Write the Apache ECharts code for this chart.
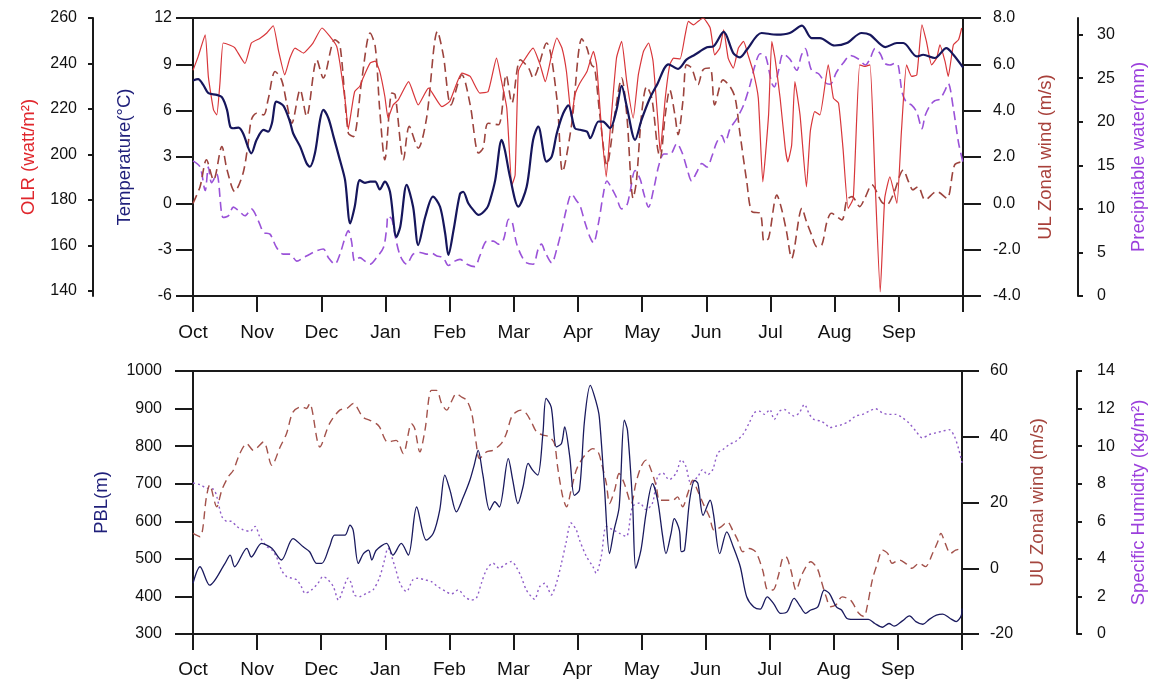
<!DOCTYPE html>
<html><head><meta charset="utf-8">
<script src="https://cdn.jsdelivr.net/npm/echarts@6/dist/echarts.min.js"></script>
<style>html,body{margin:0;padding:0;background:#fff}#c{width:1156px;height:682px}</style>
</head><body><div id="c"></div>
<script>
// x positions are in months after 1 October (0 = Oct 1, 12 = end of Sep)
const months = ['Oct','Nov','Dec','Jan','Feb','Mar','Apr','May','Jun','Jul','Aug','Sep'];
const olrTicks = [140,160,180,200,220,240,260];
const pwTicks = [0,5,10,15,20,25,30];

const tempData = [[0.00,7.95],[0.08,8.04],[0.16,7.67],[0.24,7.13],[0.37,7.02],[0.45,6.87],[0.53,6.05],[0.58,4.97],[0.63,4.86],[0.71,4.9],[0.78,4.54],[0.91,3.24],[0.99,4.1],[1.10,4.75],[1.17,4.64],[1.23,5.18],[1.30,6.59],[1.41,6.31],[1.51,5.29],[1.56,4.54],[1.67,3.67],[1.77,2.59],[1.82,2.37],[1.90,3.24],[1.98,5.4],[2.03,6.05],[2.11,5.51],[2.19,4.32],[2.29,2.8],[2.37,1.5],[2.45,-1.3],[2.52,-0.22],[2.60,1.5],[2.68,1.33],[2.76,1.4],[2.84,1.4],[2.91,0.9],[2.99,1.4],[3.07,0.75],[3.17,-2.17],[3.23,-1.52],[3.33,1.2],[3.43,-0.22],[3.51,-2.7],[3.62,-0.87],[3.74,0.44],[3.85,-0.22],[3.93,-1.95],[3.98,-3.34],[4.06,-1.74],[4.16,0.6],[4.21,0.75],[4.29,0.0],[4.37,-0.44],[4.45,-0.75],[4.58,-0.31],[4.63,0.21],[4.71,1.5],[4.81,4.11],[4.86,3.45],[4.94,1.72],[5.07,-0.21],[5.20,1.07],[5.30,4.1],[5.38,4.97],[5.51,2.7],[5.59,3.02],[5.67,4.54],[5.77,5.83],[5.85,6.34],[5.95,4.87],[6.03,4.76],[6.14,4.64],[6.19,4.22],[6.32,5.3],[6.39,5.29],[6.50,4.87],[6.60,6.05],[6.68,7.6],[6.76,6.27],[6.89,4.11],[6.99,5.4],[7.12,6.8],[7.23,7.67],[7.41,9.0],[7.56,8.71],[7.69,9.3],[7.82,9.62],[8.01,10.1],[8.11,10.16],[8.27,11.1],[8.42,9.73],[8.52,9.45],[8.63,9.94],[8.86,11.03],[9.10,10.92],[9.30,11.03],[9.49,11.5],[9.64,10.7],[9.77,10.7],[10.00,10.22],[10.19,10.38],[10.42,11.03],[10.55,10.92],[10.79,10.12],[10.97,10.38],[11.07,10.38],[11.28,9.51],[11.38,9.62],[11.56,9.41],[11.74,10.05],[11.85,9.62],[12.00,8.8]];

const olrData = [[0.00,237],[0.08,243],[0.19,252.6],[0.24,234],[0.32,219.6],[0.37,217.4],[0.42,231.4],[0.47,249],[0.58,248],[0.65,247],[0.81,240],[0.91,249],[1.04,251],[1.15,253.4],[1.25,256.6],[1.33,246],[1.43,235],[1.51,242.4],[1.59,246.8],[1.72,244.6],[1.87,249],[2.01,255.6],[2.13,252],[2.24,247.5],[2.29,240],[2.37,224],[2.42,211],[2.47,219.6],[2.52,227.7],[2.60,230],[2.65,233.6],[2.76,240.2],[2.84,241],[2.91,236.5],[2.99,225.5],[3.04,216],[3.12,221.8],[3.20,224],[3.36,232],[3.51,221.8],[3.67,229.2],[3.88,221],[4.00,223.3],[4.19,235.8],[4.32,234.3],[4.47,227],[4.60,227.7],[4.73,242.4],[4.81,232],[4.89,220.4],[4.97,186.6],[5.02,191],[5.07,236.5],[5.15,241],[5.30,246.8],[5.41,239.4],[5.49,232],[5.59,243.8],[5.67,251.2],[5.75,246.8],[5.82,236.5],[5.90,216],[5.95,226],[6.03,231.4],[6.14,236.5],[6.24,245.3],[6.29,239.4],[6.37,210],[6.44,190.2],[6.50,210],[6.60,242.4],[6.68,249.7],[6.76,232],[6.86,216],[6.94,235],[7.02,245.3],[7.10,249],[7.17,240.9],[7.25,213],[7.28,201.2],[7.36,224.8],[7.43,239.4],[7.49,242.4],[7.59,242],[7.67,252.6],[7.72,258.5],[7.80,257],[7.87,258.5],[7.95,260],[8.06,255.6],[8.13,243.8],[8.21,246.8],[8.27,254.8],[8.34,242.4],[8.42,238],[8.50,246.8],[8.58,249.7],[8.65,243.8],[8.73,236.5],[8.81,224.8],[8.88,188],[8.97,217.4],[9.02,249.7],[9.07,242.4],[9.15,224.8],[9.23,202.7],[9.27,196.8],[9.33,204.2],[9.38,232],[9.46,217.4],[9.56,185.8],[9.62,210],[9.69,218.9],[9.77,217.4],[9.90,239.4],[9.98,224.8],[10.06,222.6],[10.13,202.7],[10.21,176.3],[10.29,180.7],[10.39,239.4],[10.47,238.7],[10.55,239.4],[10.63,188],[10.71,139.6],[10.78,180.7],[10.86,190.2],[10.97,178.5],[11.04,210],[11.12,239.4],[11.20,234.3],[11.28,235],[11.36,257],[11.43,249.7],[11.51,239.4],[11.59,242.4],[11.64,248.2],[11.72,240.9],[11.77,234.3],[11.85,248.2],[11.93,250.4],[11.98,255.6]];

const ulWindData = [[0.00,0.0],[0.11,0.72],[0.21,1.88],[0.32,1.01],[0.45,2.45],[0.53,1.45],[0.65,0.51],[0.78,1.30],[0.86,2.60],[0.91,3.61],[0.99,3.89],[1.10,3.82],[1.17,4.47],[1.28,5.69],[1.38,5.33],[1.46,4.33],[1.54,3.46],[1.67,4.90],[1.77,3.75],[1.93,6.20],[2.03,5.41],[2.21,7.06],[2.29,6.85],[2.42,3.03],[2.50,2.88],[2.63,5.33],[2.76,7.35],[2.84,6.77],[2.91,4.04],[2.99,1.88],[3.10,4.76],[3.15,4.69],[3.28,1.88],[3.37,3.32],[3.51,2.38],[3.64,3.68],[3.81,7.42],[3.90,6.41],[4.02,4.25],[4.19,5.55],[4.32,4.25],[4.45,2.17],[4.52,2.38],[4.60,3.46],[4.76,3.39],[4.88,5.55],[4.97,4.33],[5.10,6.2],[5.23,5.84],[5.30,5.41],[5.51,6.92],[5.67,4.54],[5.76,1.37],[5.90,3.39],[6.06,7.1],[6.14,6.7],[6.21,5.98],[6.26,5.84],[6.34,3.82],[6.45,1.66],[6.58,3.96],[6.68,5.41],[6.76,3.82],[6.86,0.22],[6.91,0.94],[6.99,3.82],[7.07,5.04],[7.15,4.54],[7.24,2.38],[7.28,1.95],[7.36,3.82],[7.43,4.90],[7.51,3.82],[7.56,2.96],[7.64,4.54],[7.69,5.98],[7.77,5.84],[7.87,5.12],[7.95,5.77],[8.06,5.84],[8.13,4.25],[8.26,5.33],[8.37,5.04],[8.45,4.54],[8.52,3.10],[8.63,0.94],[8.71,-0.36],[8.84,-0.43],[8.90,-1.65],[8.97,-1.51],[9.10,0.36],[9.17,-0.21],[9.25,-1.22],[9.33,-2.37],[9.49,-0.21],[9.56,-0.79],[9.64,-1.36],[9.72,-1.87],[9.80,-1.80],[9.88,-0.79],[9.95,-0.43],[10.11,-0.72],[10.19,0.15],[10.27,0.29],[10.39,-0.14],[10.47,0.22],[10.58,0.80],[10.73,0.07],[10.81,-0.07],[10.91,0.36],[11.07,1.44],[11.15,0.94],[11.22,0.58],[11.30,0.72],[11.41,0.15],[11.59,0.51],[11.75,0.22],[11.87,1.66],[12.00,1.8]];

const pwData = [[0.00,15.5],[0.11,14.8],[0.19,12.1],[0.24,14.8],[0.29,13.0],[0.37,14.0],[0.47,9.0],[0.55,9.2],[0.63,10.2],[0.71,9.8],[0.81,9.2],[0.91,10.0],[1.02,8.6],[1.10,7.3],[1.20,7.1],[1.30,5.6],[1.41,4.8],[1.51,4.8],[1.62,4.0],[1.72,4.4],[1.82,4.8],[1.93,5.2],[2.03,5.4],[2.11,4.4],[2.21,3.65],[2.29,4.8],[2.37,6.7],[2.42,7.5],[2.47,6.3],[2.52,4.0],[2.60,4.4],[2.68,4.0],[2.76,3.65],[2.86,4.4],[2.97,5.6],[3.02,7.9],[3.04,9.2],[3.10,8.8],[3.15,6.9],[3.23,4.6],[3.33,3.65],[3.43,4.8],[3.54,5.0],[3.64,4.8],[3.72,4.9],[3.80,4.6],[3.90,4.4],[3.98,3.5],[4.08,4.0],[4.16,4.2],[4.27,3.65],[4.39,3.37],[4.47,4.6],[4.58,6.3],[4.68,6.3],[4.76,5.95],[4.84,6.5],[4.92,8.8],[4.97,8.6],[5.04,6.1],[5.12,4.6],[5.20,3.8],[5.30,3.65],[5.38,5.4],[5.43,5.95],[5.49,5.0],[5.59,3.8],[5.67,5.4],[5.75,7.7],[5.82,10.0],[5.90,11.7],[5.98,10.9],[6.03,10.4],[6.11,8.4],[6.19,6.7],[6.24,6.1],[6.32,8.4],[6.39,11.5],[6.45,13.2],[6.53,12.3],[6.60,11.3],[6.68,10.0],[6.76,10.4],[6.81,11.9],[6.89,14.4],[6.97,13.4],[7.02,11.9],[7.10,10.2],[7.18,12.3],[7.26,15.0],[7.34,16.3],[7.44,16.3],[7.54,17.5],[7.62,16.5],[7.70,14.6],[7.77,13.2],[7.85,14.2],[7.93,15.2],[8.01,14.8],[8.09,16.1],[8.16,17.6],[8.24,18.4],[8.29,17.6],[8.37,19.2],[8.47,20.3],[8.58,21.9],[8.68,24.2],[8.76,26.5],[8.84,27.8],[8.92,27.6],[9.02,24.4],[9.06,24.0],[9.12,25.7],[9.20,27.8],[9.30,27.2],[9.41,25.9],[9.48,27.6],[9.54,28.4],[9.64,25.9],[9.75,25.5],[9.85,24.5],[9.93,24.3],[10.03,25.7],[10.14,26.8],[10.24,27.6],[10.37,27.2],[10.48,26.5],[10.55,27.2],[10.63,28.4],[10.71,27.8],[10.78,26.7],[10.86,26.5],[10.94,26.7],[10.99,26.5],[11.05,23.4],[11.12,22.2],[11.20,21.9],[11.28,21.1],[11.36,19.2],[11.41,20.7],[11.49,21.9],[11.56,22.4],[11.64,22.6],[11.72,23.6],[11.77,24.4],[11.85,21.5],[11.93,17.6],[12.00,15.3]];

const pblData = [[0.00,435],[0.11,479],[0.26,430],[0.50,488],[0.58,510],[0.65,479],[0.84,528],[0.91,505],[1.07,541],[1.23,528],[1.38,497],[1.56,554],[1.72,532],[1.82,519],[1.93,488],[2.01,488],[2.13,532],[2.21,563],[2.37,563],[2.45,590],[2.50,576],[2.58,488],[2.66,514],[2.74,523],[2.79,497],[2.86,523],[3.02,541],[3.12,510],[3.25,541],[3.36,510],[3.49,638],[3.64,550],[3.75,568],[3.85,630],[3.93,723],[4.01,683],[4.11,625],[4.21,661],[4.32,709],[4.39,751],[4.45,789],[4.52,727],[4.63,630],[4.71,652],[4.78,638],[4.92,767],[4.99,709],[5.07,647],[5.15,692],[5.23,754],[5.30,736],[5.38,723],[5.46,833],[5.51,927],[5.59,904],[5.67,798],[5.75,807],[5.80,851],[5.88,771],[5.95,669],[6.03,683],[6.11,869],[6.20,962],[6.29,918],[6.34,878],[6.42,692],[6.50,514],[6.57,576],[6.65,638],[6.73,869],[6.78,842],[6.86,647],[6.91,475],[6.99,523],[7.07,621],[7.17,700],[7.25,656],[7.33,559],[7.38,514],[7.46,568],[7.51,607],[7.59,576],[7.62,519],[7.67,523],[7.75,656],[7.83,709],[7.88,700],[7.96,616],[8.07,656],[8.12,621],[8.22,514],[8.33,572],[8.43,532],[8.54,479],[8.64,399],[8.75,372],[8.85,366],[8.96,399],[9.06,381],[9.17,355],[9.27,359],[9.38,395],[9.48,372],[9.56,355],[9.64,364],[9.75,372],[9.85,417],[9.93,408],[10.04,372],[10.12,364],[10.20,342],[10.30,339],[10.43,339],[10.54,339],[10.64,328],[10.76,318],[10.86,328],[10.94,321],[11.07,335],[11.18,348],[11.28,333],[11.39,326],[11.49,339],[11.60,350],[11.70,353],[11.81,342],[11.91,333],[11.99,350],[12.00,368]];

const uuWindData = [[0.00,10.6],[0.11,9.6],[0.21,21.7],[0.26,25.3],[0.37,18.7],[0.45,23.8],[0.55,27.8],[0.63,29.8],[0.73,34.9],[0.84,37.9],[0.94,35.9],[1.10,38.4],[1.23,31.3],[1.36,36.9],[1.46,41.0],[1.56,47.5],[1.69,49.1],[1.77,48.6],[1.82,50.1],[1.98,36.9],[2.13,44.0],[2.29,48.1],[2.40,48.6],[2.50,50.1],[2.65,46.0],[2.76,45.0],[2.86,44.0],[2.91,43.0],[3.04,38.4],[3.17,38.9],[3.28,34.9],[3.41,44.0],[3.46,42.5],[3.54,35.4],[3.62,42.0],[3.72,54.1],[3.80,54.1],[3.88,50.1],[3.96,48.1],[4.03,50.6],[4.11,53.1],[4.19,52.1],[4.27,51.1],[4.35,47.1],[4.42,37.9],[4.47,33.4],[4.58,35.4],[4.68,35.9],[4.81,37.9],[4.89,41.0],[4.97,46.0],[5.04,47.5],[5.12,48.1],[5.20,47.1],[5.28,44.5],[5.36,41.5],[5.46,40.5],[5.56,40.0],[5.64,37.9],[5.69,30.8],[5.77,21.7],[5.83,18.7],[5.90,23.8],[5.98,29.8],[6.06,32.9],[6.16,35.4],[6.24,36.4],[6.32,35.4],[6.37,32.4],[6.45,25.8],[6.50,19.7],[6.58,23.8],[6.65,28.8],[6.73,25.8],[6.84,19.7],[6.91,25.8],[6.99,30.8],[7.07,32.9],[7.15,29.8],[7.23,24.8],[7.28,20.7],[7.38,20.7],[7.49,20.7],[7.56,21.7],[7.64,18.7],[7.72,22.7],[7.80,26.8],[7.87,23.8],[7.96,19.7],[8.06,15.6],[8.13,11.6],[8.24,12.6],[8.34,14.1],[8.42,11.6],[8.50,8.6],[8.58,5.0],[8.68,6.0],[8.78,5.0],[8.89,-0.6],[8.97,-6.6],[9.05,-6.6],[9.13,-2.6],[9.20,3.0],[9.25,3.5],[9.33,-0.6],[9.41,-6.6],[9.51,-1.6],[9.64,2.0],[9.74,0.0],[9.80,-3.6],[9.88,-8.7],[9.95,-11.7],[10.03,-11.2],[10.13,-8.7],[10.26,-9.7],[10.39,-13.7],[10.47,-14.7],[10.52,-11.7],[10.60,-3.6],[10.68,1.5],[10.76,5.5],[10.84,4.5],[10.91,1.5],[11.02,2.5],[11.12,1.5],[11.22,0.0],[11.33,1.5],[11.43,0.5],[11.54,4.5],[11.62,8.0],[11.67,10.6],[11.74,7.5],[11.82,4.5],[11.90,5.5],[12.00,6.0]];

const shData = [[0.00,8.04],[0.11,7.95],[0.21,7.77],[0.32,7.7],[0.37,7.33],[0.45,6.26],[0.53,6.0],[0.60,6.0],[0.68,5.73],[0.78,5.55],[0.89,5.46],[0.97,5.73],[1.04,5.19],[1.15,4.66],[1.23,4.48],[1.30,4.12],[1.38,3.41],[1.46,3.06],[1.54,2.97],[1.62,2.88],[1.69,2.52],[1.75,2.17],[1.85,2.35],[1.95,2.7],[2.03,3.06],[2.11,2.88],[2.19,2.52],[2.27,1.81],[2.34,2.35],[2.42,2.97],[2.47,2.7],[2.52,2.08],[2.60,1.99],[2.71,2.17],[2.81,2.35],[2.91,3.0],[2.99,3.95],[3.04,4.57],[3.15,3.59],[3.23,2.7],[3.33,2.26],[3.43,2.88],[3.51,2.97],[3.62,2.88],[3.72,2.79],[3.82,2.52],[3.95,2.26],[4.03,2.13],[4.14,2.35],[4.24,1.99],[4.34,1.81],[4.42,1.9],[4.50,2.7],[4.58,3.42],[4.68,3.77],[4.78,3.5],[4.86,3.68],[4.97,3.86],[5.04,3.59],[5.12,3.06],[5.20,2.35],[5.28,1.99],[5.33,1.85],[5.41,2.52],[5.49,2.7],[5.54,2.43],[5.59,2.08],[5.67,2.7],[5.75,3.77],[5.82,4.84],[5.90,5.91],[5.98,5.55],[6.03,5.02],[6.14,4.12],[6.24,3.59],[6.29,3.24],[6.37,4.12],[6.45,5.73],[6.55,5.55],[6.65,5.37],[6.76,5.19],[6.86,6.79],[6.97,6.97],[7.07,6.62],[7.17,6.97],[7.25,8.39],[7.33,8.57],[7.43,8.22],[7.54,8.57],[7.62,9.28],[7.69,8.93],[7.77,8.04],[7.88,8.39],[7.95,8.75],[8.03,8.48],[8.11,8.75],[8.19,9.64],[8.27,9.82],[8.37,10.09],[8.47,10.26],[8.58,10.62],[8.68,11.24],[8.76,11.78],[8.84,11.86],[8.92,11.69],[9.00,11.95],[9.07,11.42],[9.15,11.86],[9.23,11.95],[9.30,11.77],[9.38,11.6],[9.46,11.77],[9.54,12.22],[9.62,11.69],[9.69,11.42],[9.80,11.33],[9.88,11.15],[9.93,10.98],[10.03,11.06],[10.13,11.15],[10.24,11.33],[10.34,11.6],[10.45,11.69],[10.55,11.86],[10.65,11.99],[10.76,11.77],[10.84,11.69],[10.97,11.69],[11.07,11.51],[11.17,11.24],[11.28,10.8],[11.38,10.44],[11.49,10.62],[11.59,10.71],[11.69,10.79],[11.80,10.88],[11.88,10.53],[11.95,9.82],[12.00,9.11]];

const FONT = '"Liberation Sans", Arial, Helvetica, sans-serif';
const AX = '#1a1a1a';
const C = {
  olr: '#d8363a', olrT: '#e0262c',
  temp: '#16165c', tempT: '#1f1f7a',
  ul: '#9c433d', ulT: '#a8403a',
  pw: '#9a52d8', pwT: '#9b3fdc',
  pbl: '#1a1a5e', pblT: '#1f1f7a',
  uu: '#a3524b', uuT: '#a5463f',
  sh: '#8f5cc8', shT: '#9b3fdc'
};

function xAxis(g, margin) {
  return {
    type: 'value', gridIndex: g, min: 0, max: 12, interval: 1,
    axisLine: {onZero: false, lineStyle: {color: AX, width: 2}},
    axisTick: {length: 16, lineStyle: {color: AX, width: 2}},
    axisLabel: {margin: margin, fontSize: 19, color: '#111', fontFamily: FONT,
      formatter: v => (v < 12 && months[Math.round(v)] !== undefined) ? months[Math.round(v)] : ''},
    splitLine: {show: false}
  };
}
function yAxis(o) {
  const base = {
    type: 'value', nameLocation: 'middle', nameRotate: 90,
    axisLine: {show: true, onZero: false, lineStyle: {color: AX, width: 2}},
    splitLine: {show: false}
  };
  const r = Object.assign(base, o);
  r.axisTick = Object.assign({show: true, lineStyle: {color: AX, width: 2}}, o.axisTick || {});
  r.axisLabel = Object.assign({fontSize: 16, color: '#111', fontFamily: FONT, formatter: v => String(v)}, o.axisLabel || {});
  r.nameTextStyle = Object.assign({fontSize: 18.5, fontFamily: FONT}, o.nameTextStyle || {});
  return r;
}

const option = {
  animation: false,
  backgroundColor: '#fff',
  grid: [
    {left: 193, top: 18, width: 770, height: 278, show: true, borderColor: AX, borderWidth: 2, backgroundColor: 'transparent'},
    {left: 193, top: 371, width: 772, height: 263, show: true, borderColor: AX, borderWidth: 2, backgroundColor: 'transparent'}
  ],
  xAxis: [xAxis(0, 27), xAxis(1, 26)],
  yAxis: [
    yAxis({gridIndex: 0, position: 'left', min: -6, max: 12, interval: 3,
      axisTick: {length: 17}, axisLabel: {margin: 21},
      name: 'Temperature(°C)', nameGap: 59, nameTextStyle: {color: C.tempT}}),
    yAxis({gridIndex: 0, position: 'left', offset: 100, min: 137.8, max: 260,
      axisTick: {length: 5, customValues: olrTicks}, axisLabel: {margin: 16, customValues: olrTicks},
      name: 'OLR (watt/m²)', nameGap: 55, nameTextStyle: {color: C.olrT}}),
    yAxis({gridIndex: 0, position: 'right', min: -4, max: 8, interval: 2,
      axisTick: {length: 18}, axisLabel: {margin: 30, formatter: v => v.toFixed(1)},
      name: 'UL Zonal wind (m/s)', nameGap: 73, nameTextStyle: {color: C.ulT}}),
    yAxis({gridIndex: 0, position: 'right', offset: 115, min: 0, max: 31.9,
      axisTick: {length: 5, customValues: pwTicks}, axisLabel: {margin: 19, customValues: pwTicks},
      name: 'Precipitable water(mm)', nameGap: 51, nameTextStyle: {color: C.pwT}}),
    yAxis({gridIndex: 1, position: 'left', min: 300, max: 1000, interval: 100,
      axisTick: {length: 18}, axisLabel: {margin: 31},
      name: 'PBL(m)', nameGap: 82, nameTextStyle: {color: C.pblT}}),
    yAxis({gridIndex: 1, position: 'right', min: -20, max: 60, interval: 20,
      axisTick: {length: 17}, axisLabel: {margin: 28},
      name: 'UU Zonal wind (m/s)', nameGap: 66, nameTextStyle: {color: C.uuT}}),
    yAxis({gridIndex: 1, position: 'right', offset: 115, min: 0, max: 14, interval: 2,
      axisTick: {length: 5}, axisLabel: {margin: 20},
      name: 'Specific Humidity (kg/m²)', nameGap: 52, nameTextStyle: {color: C.shT}})
  ],
  series: [
    {type: 'line', name: 'Precipitable water', xAxisIndex: 0, yAxisIndex: 3, data: pwData,
      showSymbol: false, smooth: 0.3, lineStyle: {color: C.pw, width: 1.6, type: [9, 5]}},
    {type: 'line', name: 'UL Zonal wind', xAxisIndex: 0, yAxisIndex: 2, data: ulWindData,
      showSymbol: false, smooth: 0.3, lineStyle: {color: C.ul, width: 1.6, type: [9, 5]}},
    {type: 'line', name: 'OLR', xAxisIndex: 0, yAxisIndex: 1, data: olrData,
      showSymbol: false, smooth: 0.15, lineStyle: {color: C.olr, width: 1.2}},
    {type: 'line', name: 'Temperature', xAxisIndex: 0, yAxisIndex: 0, data: tempData,
      showSymbol: false, smooth: 0.3, lineStyle: {color: C.temp, width: 2.2}},
    {type: 'line', name: 'Specific Humidity', xAxisIndex: 1, yAxisIndex: 6, data: shData,
      showSymbol: false, smooth: 0.3, lineStyle: {color: C.sh, width: 1.4, type: [2, 3]}},
    {type: 'line', name: 'UU Zonal wind', xAxisIndex: 1, yAxisIndex: 5, data: uuWindData,
      showSymbol: false, smooth: 0.3, lineStyle: {color: C.uu, width: 1.4, type: [8, 5]}},
    {type: 'line', name: 'PBL', xAxisIndex: 1, yAxisIndex: 4, data: pblData,
      showSymbol: false, smooth: 0.3, lineStyle: {color: C.pbl, width: 1.3}}
  ]
};
const chart = echarts.init(document.getElementById('c'), null, {renderer: 'canvas'});
chart.setOption(option);
</script>
</body></html>
